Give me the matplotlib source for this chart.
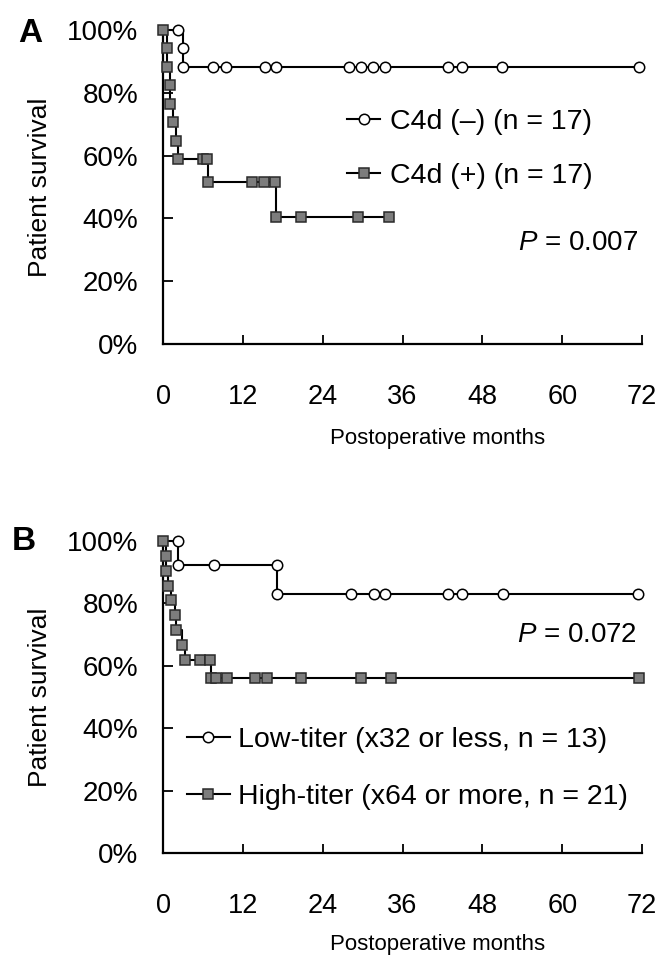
import matplotlib
matplotlib.use("Agg")
import matplotlib.pyplot as plt
from matplotlib.lines import Line2D

plt.rcParams['font.family'] = ['Liberation Sans', 'DejaVu Sans']
plt.rcParams['mathtext.fontset'] = 'custom'
plt.rcParams['mathtext.it'] = 'Liberation Sans:italic'
plt.rcParams['mathtext.rm'] = 'Liberation Sans'

# panel A: C4d staining
a_neg_t = [0, 2.2, 3.0, 3.0, 7.5, 9.5, 15.3, 17.0, 28.0, 29.8, 31.5, 33.3, 42.8, 44.9, 51.0, 71.6]
a_neg_s = [100, 100, 94.1, 88.2, 88.2, 88.2, 88.2, 88.2, 88.2, 88.2, 88.2, 88.2, 88.2, 88.2, 88.2, 88.2]
a_pos_t = [0, 0.6, 0.6, 1.0, 1.0, 1.5, 2.0, 2.2, 6.0, 6.6, 6.8, 13.4, 15.2, 16.8, 17.0, 20.8, 29.3, 34.0]
a_pos_s = [100, 94.1, 88.2, 82.4, 76.5, 70.6, 64.7, 58.8, 58.8, 58.8, 51.5, 51.5, 51.5, 51.5, 40.4, 40.4, 40.4, 40.4]

# panel B: antibody titer
b_low_t = [0, 2.3, 2.3, 7.6, 17.2, 17.2, 28.2, 31.7, 33.3, 42.9, 45.0, 51.1, 71.4]
b_low_s = [100, 100, 92.3, 92.3, 92.3, 83.0, 83.0, 83.0, 83.0, 83.0, 83.0, 83.0, 83.0]
b_high_t = [0, 0.4, 0.4, 0.7, 1.2, 1.8, 2.0, 2.8, 3.3, 5.6, 7.0, 7.2, 8.0, 9.6, 13.8, 15.6, 20.8, 29.8, 34.2, 71.5]
b_high_s = [100, 95.2, 90.5, 85.7, 81.0, 76.2, 71.4, 66.7, 61.9, 61.9, 61.9, 56.2, 56.2, 56.2, 56.2, 56.2, 56.2, 56.2, 56.2, 56.2]

xticks = [0, 12, 24, 36, 48, 60, 72]
yticks = [0, 20, 40, 60, 80, 100]
ytick_labels = ['0%', '20%', '40%', '60%', '80%', '100%']

circ = dict(marker='o', markersize=7.5, markerfacecolor='white', markeredgecolor='black',
            markeredgewidth=1.1)
sq = dict(marker='s', markersize=7.8, markerfacecolor='#7d7d7d', markeredgecolor='#2a2a2a',
          markeredgewidth=1.1)

fig = plt.figure(figsize=(6.6, 9.56), dpi=100)
axA = fig.add_axes([0.247, 0.6402, 0.7258, 0.3285])
axB = fig.add_axes([0.247, 0.1077, 0.7258, 0.3264])


def km(ax, t, s, style, first=1, z=4):
    ax.plot(t, s, color='black', lw=1.5, drawstyle='steps-post', clip_on=False, zorder=3)
    ax.plot(t[first:], s[first:], linestyle='none', clip_on=False, zorder=z, **style)


def style_axes(ax):
    ax.set_xlim(0, 72)
    ax.set_ylim(0, 100)
    ax.spines['top'].set_visible(False)
    ax.spines['right'].set_visible(False)
    ax.spines['left'].set_linewidth(1.6)
    ax.spines['bottom'].set_linewidth(1.6)
    ax.set_xticks(xticks)
    ax.set_yticks(yticks)
    ax.set_yticklabels(ytick_labels)
    ax.tick_params(axis='x', direction='in', length=6.5, width=1.3, pad=29, labelsize=19.5)
    ax.tick_params(axis='y', direction='in', length=7, width=1.3, pad=18, labelsize=20)
    ax.set_ylabel('Patient survival', fontsize=19)
    ax.set_xlabel('Postoperative months', fontsize=16)
    ax.yaxis.set_label_coords(-0.232, 0.5)


def handles():
    return [Line2D([], [], color='black', lw=1.5, **circ),
            Line2D([], [], color='black', lw=1.5, **sq)]


km(axA, a_neg_t, a_neg_s, circ, first=1, z=4)
km(axA, a_pos_t, a_pos_s, sq, first=0, z=5)
style_axes(axA)
axA.xaxis.set_label_coords(0.574, -0.268)
axA.legend(handles(), ['C4d (\u2013) (n = 17)', 'C4d (+) (n = 17)'], loc='upper left',
           bbox_to_anchor=(27.7, 74.8), bbox_transform=axA.transData, frameon=False,
           fontsize=20.5, handlelength=1.16, handletextpad=0.35, labelspacing=0.98,
           borderpad=0, borderaxespad=0)
axA.text(71.4, 32.0, '$P$ = 0.007', fontsize=20, ha='right', va='center')
fig.text(30 / 660, 1 - 33 / 956, 'A', fontsize=24, fontweight='bold', ha='center', va='center')

km(axB, b_low_t, b_low_s, circ, first=1, z=4)
km(axB, b_high_t, b_high_s, sq, first=0, z=5)
style_axes(axB)
axB.xaxis.set_label_coords(0.574, -0.26)
axB.legend(handles(), ['Low-titer (x32 or less, n = 13)', 'High-titer (x64 or more, n = 21)'],
           loc='upper left', bbox_to_anchor=(3.6, 40.5), bbox_transform=axB.transData,
           frameon=False, fontsize=20.5, handlelength=1.5, handletextpad=0.3,
           labelspacing=1.09, borderpad=0, borderaxespad=0)
axB.text(71.2, 70.0, '$P$ = 0.072', fontsize=20, ha='right', va='center')
fig.text(24 / 660, 1 - 542 / 956, 'B', fontsize=24, fontweight='bold', ha='center', va='center')

fig.savefig('out.png', dpi=100)
